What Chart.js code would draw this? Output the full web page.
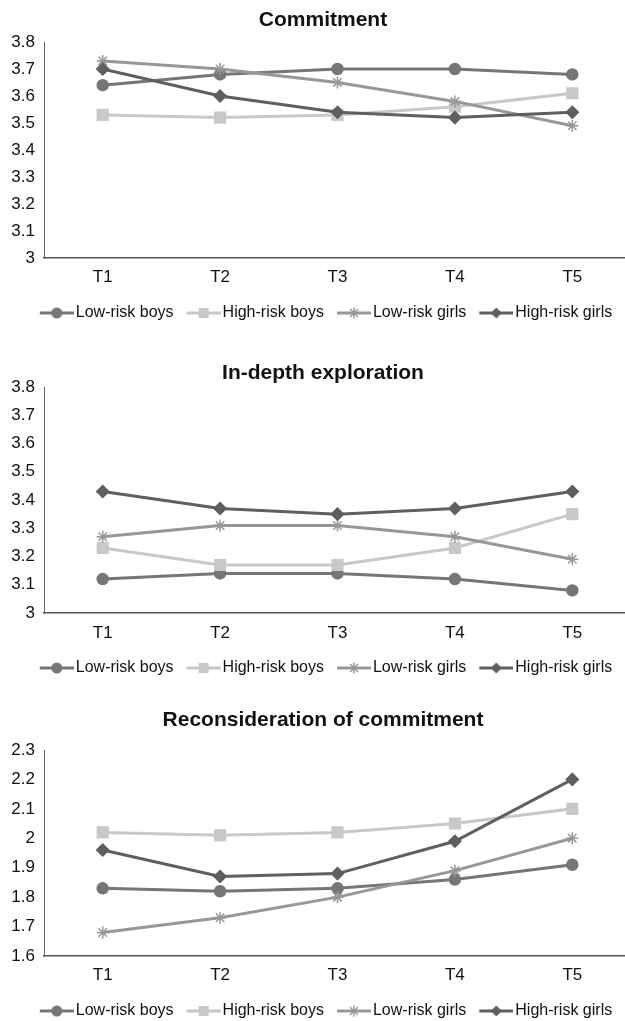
<!DOCTYPE html>
<html>
<head>
<meta charset="utf-8">
<script src="https://cdn.jsdelivr.net/npm/chart.js@4.4.1/dist/chart.umd.min.js"></script>
<style>
  html, body { margin: 0; padding: 0; background: #fff; overflow: hidden; }
  .panel { position: absolute; left: 0; width: 640px; }
</style>
</head>
<body>
<div class="panel" style="top:0px"><canvas id="chart1" width="640" height="335"></canvas></div>
<div class="panel" style="top:340px"><canvas id="chart2" width="640" height="348"></canvas></div>
<div class="panel" style="top:680px"><canvas id="chart3" width="640" height="351"></canvas></div>
<script>
// categories and series names
const timePoints = ['T1', 'T2', 'T3', 'T4', 'T5'];
const groupNames = ['Low-risk boys', 'High-risk boys', 'Low-risk girls', 'High-risk girls'];

// Commitment
const commitmentLowRiskBoys   = [3.64, 3.68, 3.70, 3.70, 3.68];
const commitmentHighRiskBoys  = [3.53, 3.52, 3.53, 3.56, 3.61];
const commitmentLowRiskGirls  = [3.73, 3.70, 3.65, 3.58, 3.49];
const commitmentHighRiskGirls = [3.70, 3.60, 3.54, 3.52, 3.54];

// In-depth exploration
const explorationLowRiskBoys   = [3.12, 3.14, 3.14, 3.12, 3.08];
const explorationHighRiskBoys  = [3.23, 3.17, 3.17, 3.23, 3.35];
const explorationLowRiskGirls  = [3.27, 3.31, 3.31, 3.27, 3.19];
const explorationHighRiskGirls = [3.43, 3.37, 3.35, 3.37, 3.43];

// Reconsideration of commitment
const reconsiderationLowRiskBoys   = [1.83, 1.82, 1.83, 1.86, 1.91];
const reconsiderationHighRiskBoys  = [2.02, 2.01, 2.02, 2.05, 2.10];
const reconsiderationLowRiskGirls  = [1.68, 1.73, 1.80, 1.89, 2.00];
const reconsiderationHighRiskGirls = [1.96, 1.87, 1.88, 1.99, 2.20];

// axis ranges
const commitmentRange      = [3, 3.8];
const explorationRange     = [3, 3.8];
const reconsiderationRange = [1.6, 2.3];

// look of each group (same order as groupNames)
const groupColors = ['#767676', '#c8c8c8', '#979797', '#5f5f5f'];
const groupMarkers = ['circle', 'rect', 'star', 'rectRot'];
const groupRadius = [5.5, 7.5, 6, 6];

const FONT = 'Liberation Sans, Arial, sans-serif';
const TEXT_COLOR = '#111';

// line + marker picture for the legend (Excel style key).
// The key sits in the right part of a wider transparent canvas so it lines up next to the text.
function legendKey(color, marker) {
    const c = document.createElement('canvas');
    c.width = 46;
    c.height = 14;
    const g = c.getContext('2d');
    const x0 = 12, mid = x0 + 17;
    g.strokeStyle = color;
    g.fillStyle = color;
    g.lineWidth = 3;
    g.beginPath();
    g.moveTo(x0, 7);
    g.lineTo(x0 + 34, 7);
    g.stroke();
    g.lineWidth = 1.5;
    if (marker === 'circle') {
        g.beginPath(); g.arc(mid, 7, 5.5, 0, Math.PI * 2); g.fill();
    } else if (marker === 'rect') {
        g.fillRect(mid - 5, 2, 10, 10);
    } else if (marker === 'rectRot') {
        g.beginPath(); g.moveTo(mid, 1.5); g.lineTo(mid + 5.5, 7); g.lineTo(mid, 12.5); g.lineTo(mid - 5.5, 7); g.closePath(); g.fill();
    } else {
        g.beginPath();
        g.moveTo(mid - 4, 3); g.lineTo(mid + 4, 11);
        g.moveTo(mid + 4, 3); g.lineTo(mid - 4, 11);
        g.moveTo(mid, 1.5); g.lineTo(mid, 12.5);
        g.stroke();
    }
    return c;
}

function makeChart(id, title, series, range, titlePad, tickPad, bottomPad) {
    const datasets = series.map((values, i) => ({
        label: groupNames[i],
        data: values,
        borderColor: groupColors[i],
        backgroundColor: groupColors[i],
        borderWidth: 3,
        pointStyle: groupMarkers[i],
        pointRadius: groupRadius[i],
        pointBorderWidth: 1.5,
        pointBorderColor: groupColors[i],
        pointBackgroundColor: groupColors[i],
        tension: 0,
        order: series.length - i
    }));

    return new Chart(document.getElementById(id), {
        type: 'line',
        data: { labels: timePoints, datasets: datasets },
        options: {
            responsive: false,
            animation: false,
            layout: { padding: { left: 10, right: 4, top: 0, bottom: bottomPad } },
            plugins: {
                title: {
                    display: true,
                    text: title,
                    color: TEXT_COLOR,
                    font: { family: FONT, size: 21, weight: 'bold' },
                    padding: titlePad
                },
                legend: {
                    position: 'bottom',
                    // empty legend title only adds a little room above the items
                    title: { display: true, text: '', font: { size: 10 }, padding: 0 },
                    labels: {
                        usePointStyle: true,
                        pointStyleWidth: 34,
                        padding: 7,
                        color: TEXT_COLOR,
                        font: { family: FONT, size: 16 },
                        generateLabels: () => groupNames.map((name, i) => ({
                            text: name,
                            fontColor: TEXT_COLOR,
                            pointStyle: legendKey(groupColors[i], groupMarkers[i]),
                            fillStyle: groupColors[i],
                            strokeStyle: groupColors[i],
                            lineWidth: 0,
                            datasetIndex: i
                        }))
                    }
                },
                tooltip: { enabled: false }
            },
            scales: {
                x: {
                    offset: true,
                    grid: { display: false, drawTicks: false },
                    border: { color: '#555', width: 1.5 },
                    ticks: {
                        padding: tickPad,
                        color: TEXT_COLOR,
                        font: { family: FONT, size: 17 }
                    },
                    afterFit: scale => { scale.height = 28; }
                },
                y: {
                    min: range[0],
                    max: range[1],
                    grid: { display: false, drawTicks: false },
                    border: { color: '#666', width: 1 },
                    ticks: {
                        stepSize: 0.1,
                        padding: 9,
                        color: TEXT_COLOR,
                        font: { family: FONT, size: 17 },
                        callback: v => String(+v.toFixed(1))
                    },
                    afterFit: scale => { scale.width = 34; }
                }
            }
        }
    });
}

makeChart('chart1', 'Commitment',
    [commitmentLowRiskBoys, commitmentHighRiskBoys, commitmentLowRiskGirls, commitmentHighRiskGirls],
    commitmentRange, { top: 7.4, bottom: 9.4 }, 9, 4);
makeChart('chart2', 'In-depth exploration',
    [explorationLowRiskBoys, explorationHighRiskBoys, explorationLowRiskGirls, explorationHighRiskGirls],
    explorationRange, { top: 20.4, bottom: 1.4 }, 10, 2);
makeChart('chart3', 'Reconsideration of commitment',
    [reconsiderationLowRiskBoys, reconsiderationHighRiskBoys, reconsiderationLowRiskGirls, reconsiderationHighRiskGirls],
    reconsiderationRange, { top: 27.4, bottom: 17.4 }, 9, 2);
</script>
</body>
</html>
